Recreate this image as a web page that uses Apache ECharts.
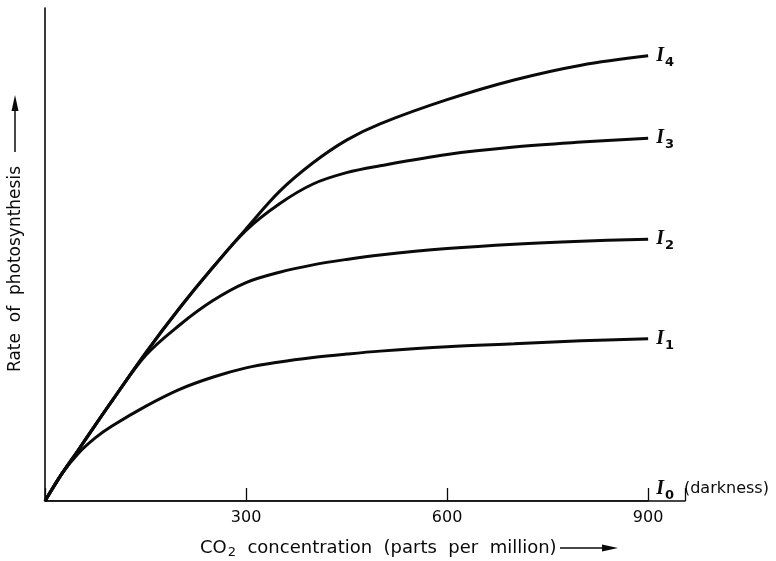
<!DOCTYPE html>
<html>
<head>
<meta charset="utf-8">
<style>
  html, body { margin: 0; padding: 0; background: #fff; }
  #chart { width: 776px; height: 561px; }
</style>
<script src="https://cdn.jsdelivr.net/npm/echarts@6/dist/echarts.min.js"></script>
</head>
<body>
<div id="chart"></div>
<script>
// CO2 concentration (ppm) at which each light-intensity curve is sampled
const ppm = [0, 25, 50, 75, 100, 150, 200, 250, 300, 350, 400, 450, 500, 600, 700, 800, 900];

// Relative rate of photosynthesis for each light intensity I1..I4
const rateI1 = [0, 5.5, 9.7, 12.8, 15.2, 19.2, 22.6, 25.1, 27.0, 28.2, 29.1, 29.8, 30.4, 31.3, 31.9, 32.5, 32.9];
const rateI2 = [0, 5.5, 10.4, 15.4, 20.3, 29.5, 35.6, 40.6, 44.3, 46.4, 47.9, 49.0, 49.9, 51.2, 52.1, 52.7, 53.1];
const rateI3 = [0, 5.5, 10.4, 15.4, 20.3, 30.0, 39.0, 47.3, 54.9, 60.3, 64.3, 66.6, 68.0, 70.3, 71.8, 72.8, 73.6];
const rateI4 = [0, 5.5, 10.4, 15.4, 20.3, 30.0, 39.0, 47.3, 55.2, 62.8, 68.6, 73.2, 76.5, 81.4, 85.4, 88.4, 90.3];

// Darkness: no photosynthesis at any concentration
const ppmDark = [0, 900];
const rateI0 = [0, 0];

const intensityIndex = ['1', '2', '3', '4'];
const xTicks = [300, 600, 900];

const INK = '#0a0a0a';
const SANS = 'DejaVu Sans';

const curveRich = {
  i: { fontFamily: 'Liberation Serif', fontStyle: 'italic', fontWeight: 'bold', fontSize: 20, color: INK },
  s: { fontFamily: SANS, fontWeight: 'bold', fontSize: 13, color: INK, padding: [13, 0, 0, 1] },
  t: { fontFamily: SANS, fontSize: 16, color: INK, padding: [0, 0, 0, 10] }
};

function pairs(xs, ys) {
  return xs.map((x, k) => [x, ys[k]]);
}

const rates = [rateI1, rateI2, rateI3, rateI4];

const series = rates.map((ys, k) => ({
  name: 'I' + intensityIndex[k],
  type: 'line',
  data: pairs(ppm, ys),
  smooth: 0.35,
  showSymbol: false,
  lineStyle: { color: INK, width: 3 },
  endLabel: {
    show: true,
    distance: 8,
    formatter: '{i|I}{s|' + intensityIndex[k] + '}',
    rich: curveRich
  },
  z: 3
}));

series.push({
  name: 'I0',
  type: 'line',
  data: pairs(ppmDark, rateI0),
  showSymbol: false,
  lineStyle: { color: INK, width: 1.5 },
  endLabel: {
    show: true,
    distance: 8,
    offset: [0, -12],
    formatter: '{i|I}{s|0}{t|(darkness)}',
    rich: curveRich
  },
  z: 2
});

const chart = echarts.init(document.getElementById('chart'), null, { renderer: 'canvas' });

chart.setOption({
  animation: false,
  backgroundColor: '#fff',
  grid: { left: 45, right: 91, top: 8, bottom: 60, containLabel: false },
  xAxis: {
    type: 'value',
    min: 0,
    max: 955,
    interval: 300,
    axisLine: { show: true, onZero: false, lineStyle: { color: INK, width: 1.6 } },
    axisTick: { show: true, inside: true, length: 13, lineStyle: { color: INK, width: 1.3 } },
    axisLabel: {
      margin: 9,
      fontFamily: SANS,
      fontSize: 16,
      color: INK,
      formatter: v => (xTicks.indexOf(v) >= 0 ? String(v) : '')
    },
    splitLine: { show: false }
  },
  yAxis: {
    type: 'value',
    min: 0,
    max: 100,
    axisLine: { show: true, lineStyle: { color: INK, width: 1.6 } },
    axisTick: { show: false },
    axisLabel: { show: false },
    splitLine: { show: false }
  },
  series: series,
  graphic: [
    // vertical axis title with upward arrow
    {
      type: 'text',
      x: 16,
      y: 269,
      rotation: Math.PI / 2,
      style: {
        text: 'Rate  of  photosynthesis',
        fontFamily: SANS,
        fontSize: 17,
        fill: INK,
        align: 'center',
        verticalAlign: 'middle'
      }
    },
    {
      type: 'line',
      shape: { x1: 15, y1: 152, x2: 15, y2: 108 },
      style: { stroke: INK, lineWidth: 1.5 }
    },
    {
      type: 'polygon',
      shape: { points: [[15, 95], [11.5, 111], [18.5, 111]] },
      style: { fill: INK }
    },
    // horizontal axis title with rightward arrow
    {
      type: 'text',
      x: 200,
      y: 548,
      style: {
        text: 'CO{s|2}  concentration  (parts  per  million)',
        rich: {
          s: { fontFamily: SANS, fontSize: 13, fill: INK, padding: [9, 0, 0, 1] }
        },
        fontFamily: SANS,
        fontSize: 18,
        fill: INK,
        align: 'left',
        verticalAlign: 'middle'
      }
    },
    {
      type: 'line',
      shape: { x1: 560, y1: 548, x2: 604, y2: 548 },
      style: { stroke: INK, lineWidth: 1.5 }
    },
    {
      type: 'polygon',
      shape: { points: [[618, 548], [602, 544.5], [602, 551.5]] },
      style: { fill: INK }
    }
  ]
});
</script>
</body>
</html>
